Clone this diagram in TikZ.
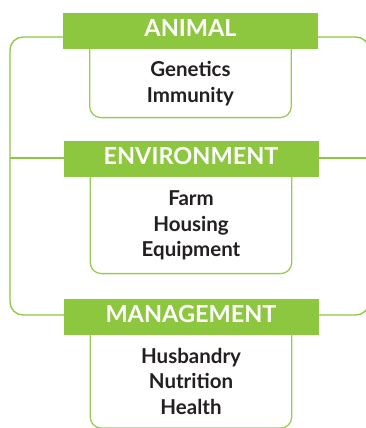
\documentclass[tikz,border=0pt]{standalone}
\usepackage{fontspec}
\setmainfont{Lato}
\usetikzlibrary{positioning}
\definecolor{leaf}{HTML}{8DC63F}
\definecolor{ink}{HTML}{231F20}

\begin{document}
\begin{tikzpicture}
		[x=1pt,y=-1pt,
		head/.style={fill=leaf,text=white,minimum width=255pt,minimum height=36pt,inner sep=0pt,text height=17pt,text depth=6pt,font=\fontsize{23.5}{24}\selectfont\bfseries},
		body/.style={minimum width=201pt,inner sep=0pt,align=center,text=ink,font=\fontsize{20.5}{25.5}\selectfont\bfseries},
		frame/.style={leaf,line width=1.3pt,rounded corners=13pt},
		boxline/.style={leaf!90!white,line width=1.3pt,rounded corners=11pt}]
		\useasboundingbox (0,0) rectangle (365,428);

		% the outer frame and its middle bar
		\draw [frame] (10,37) rectangle (369,315);
		\draw [frame] (10,158) -- (369,158);

		% the three headings
		\node [head] (animal) at (190.5,31) {ANIMAL};
		\node [head] (environment) at (191,159) {ENVIRONMENT};
		\node [head] (management) at (191,316.5) {MANAGEMENT};

		% the boxes below them
		\node [body,minimum height=68pt,below=0pt of animal] (animalbox) {Genetics\\Immunity};
		\node [body,minimum height=96pt,below=0pt of environment] (environmentbox) {Farm\\Housing\\Equipment};
		\node [body,minimum height=93pt,below=0pt of management] (managementbox) {Husbandry\\Nutrition\\Health};

		\draw [boxline] (animalbox.north west) -- (animalbox.south west) -- (animalbox.south east) -- (animalbox.north east);
		\draw [boxline] (environmentbox.north west) -- (environmentbox.south west) -- (environmentbox.south east) -- (environmentbox.north east);
		\draw [boxline] (managementbox.north west) -- (managementbox.south west) -- (managementbox.south east) -- (managementbox.north east);
	\end{tikzpicture}
\end{document}
